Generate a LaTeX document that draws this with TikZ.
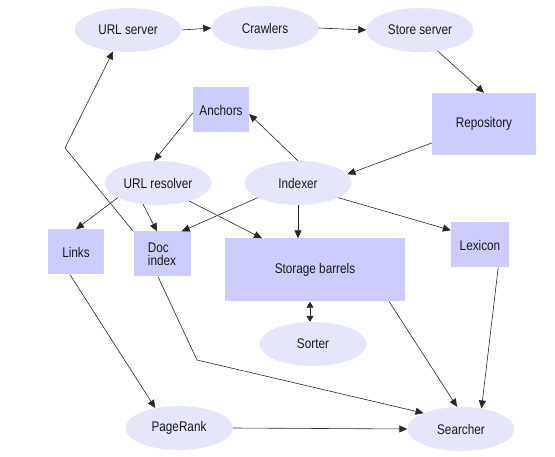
\documentclass[tikz,border=0pt]{standalone}
\usepackage{fontspec}
\setmainfont{Liberation Sans}[FakeStretch=0.84]
\usetikzlibrary{arrows.meta,shapes.geometric}
\definecolor{procfill}{RGB}{230,230,250}
\definecolor{storefill}{RGB}{204,204,255}
\tikzset{
  procnode/.style={ellipse, fill=procfill, minimum width=107pt, minimum height=44pt,
    inner sep=0pt, text=black!90, font=\fontsize{14}{13}\selectfont},
  storenode/.style={rectangle, fill=storefill, minimum width=56pt, minimum height=45pt,
    inner sep=0pt, align=left, text=black!90, font=\fontsize{14}{13}\selectfont},
  flowarrow/.style={-{Triangle[length=8pt,width=7pt]}, line width=0.6pt, draw=black!85},
  botharrow/.style={{Triangle[length=6pt,width=7pt]}-{Triangle[length=6pt,width=7pt]}, line width=0.6pt, draw=black!85},
}

\begin{document}
\begin{tikzpicture}[x=1pt,y=-1pt]
  \useasboundingbox (0,0) rectangle (555,457);
  % processes
  \node[procnode] (urlserver) at (128,30) {URL server};
  \node[procnode] (crawlers) at (265,28) {Crawlers};
  \node[procnode] (storeserver) at (420,30) {Store server};
  \node[procnode] (urlresolver) at (158,183) {URL resolver};
  \node[procnode] (indexer) at (298,183) {Indexer};
  \node[procnode] (sorter) at (313,344) {Sorter};
  \node[procnode] (pagerank) at (179,428) {PageRank};
  \node[procnode] (searcher) at (461,429) {Searcher};
  % stores
  \node[storenode, minimum width=104pt, minimum height=62pt] (repository) at (484,124) {Repository};
  \node[storenode] (anchors) at (221,110) {Anchors};
  \node[storenode] (links) at (76,252) {Links};
  \node[storenode, minimum width=57pt] (docindex) at (162,254) {Doc\\index};
  \node[storenode, minimum width=180pt, minimum height=63pt] (barrels) at (315,270) {Storage barrels};
  \node[storenode, minimum width=58pt] (lexicon) at (480,245) {Lexicon};
  \coordinate (bendup) at (65,148);
  \coordinate (benddown) at (197,360);

  \draw[flowarrow] (urlserver.east) -- (crawlers.west);
  \draw[flowarrow] (crawlers.east) -- (storeserver.west);
  \draw[flowarrow] (storeserver.-50) -- (repository.north);
  \draw[flowarrow] ([yshift=-19pt]repository.west) -- (indexer.10);
  \draw[flowarrow] (indexer.north) -- ([yshift=-4pt]anchors.east);
  \draw[flowarrow] ([yshift=-3pt]anchors.west) -- ([xshift=-4pt]urlresolver.north);
  \draw[flowarrow] (urlresolver.200) -- (links.north);
  \draw[flowarrow] (urlresolver.235) -- ([xshift=-5pt]docindex.north);
  \draw[flowarrow] (urlresolver.-30) -- ([xshift=-53pt]barrels.north);
  \draw[flowarrow] (indexer.200) -- ([xshift=-9pt]docindex.north east);
  \draw[flowarrow] (indexer.south) -- (indexer.south |- barrels.north);
  \draw[flowarrow] (indexer.-20) -- ([yshift=-8pt]lexicon.north west);
  \draw[flowarrow] (docindex.north west) -- (bendup) -- (urlserver.235);
  \draw[flowarrow] ([xshift=-6pt]links.south) -- (pagerank.140);
  \draw[flowarrow] ([xshift=-4pt]docindex.south) -- (benddown) -- (searcher.157);
  \draw[flowarrow] (pagerank.east) -- (searcher.west);
  \draw[flowarrow] ([xshift=-16pt]barrels.south east) -- (searcher.100);
  \draw[flowarrow] ([xshift=-11pt]lexicon.south east) -- (searcher.45);
  \draw[botharrow] ([xshift=-3pt]sorter.north |- barrels.south) -- ([xshift=-3pt]sorter.north);
\end{tikzpicture}
\end{document}
